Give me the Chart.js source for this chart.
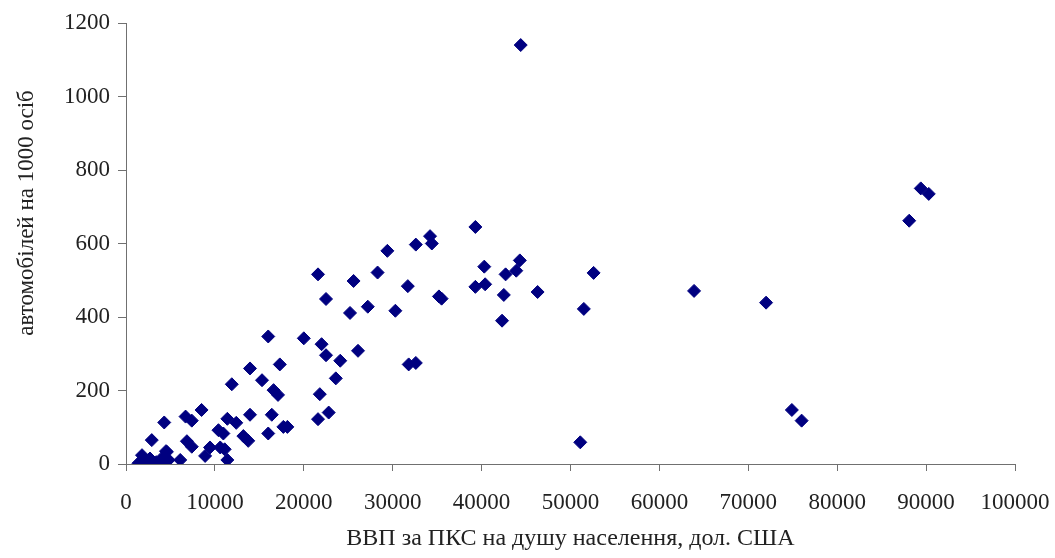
<!DOCTYPE html>
<html>
<head>
<meta charset="utf-8">
<script src="https://cdn.jsdelivr.net/npm/chart.js@4"></script>
<style>
  body { margin: 0; background: #fff; }
  #wrap { width: 1055px; height: 558px; position: relative; }
</style>
</head>
<body>
<div id="wrap"><canvas id="scatterChart"></canvas></div>
<script>
// GDP per capita (PPP, USD) and cars per 1000 people
const gdpValues = [
    44400, 89400, 90300, 88100, 72000, 74900, 76000, 63900, 52600, 51500, 51100, 46300,
    39300, 34200, 32600, 34400, 44300, 40300, 43900, 42700, 39300, 40400, 42500, 42300, 35200, 35500, 31700,
    29400, 21600, 25600, 28300, 22500, 25200, 27200, 30300, 20000, 22000, 22500, 24100, 26100, 23600, 21800, 22800, 21600, 31800, 32600,
    16000, 13950, 17300, 11900, 15300, 16600, 17100, 8500, 11400, 12400, 13950, 16400, 10400, 10950, 13200, 13750, 16000, 17700, 18150,
    4300, 6700, 7400, 2900, 6850, 7400, 4500, 9450, 8900, 10600, 11100, 11400, 6100,
    1400, 1800, 2200, 2700, 2900, 3400, 4000, 4200, 4600, 4800
];
const carValues = [
    1140, 750, 735, 662, 439, 147, 118, 471, 520, 422, 59, 468,
    645, 620, 597, 600, 554, 537, 526, 516, 482, 489, 460, 390, 456, 450, 484,
    580, 516, 498, 521, 449, 411, 428, 417, 342, 326, 296, 281, 308, 233, 190, 140, 122, 271, 275,
    347, 260, 271, 217, 228, 201, 188, 147, 123, 112, 134, 134, 92, 83, 76, 63, 83, 101, 101,
    113, 129, 118, 65, 62, 47, 35, 45, 22, 45, 40, 11, 11,
    2, 24, 8, 15, 2, 5, 2, 20, 33, 11
];
const xTitle = 'ВВП за ПКС на душу населення, дол. США';
const yTitle = 'автомобілей на 1000 осіб';

const points = gdpValues.map((x, i) => ({ x: x, y: carValues[i] }));

const serif = '"Liberation Serif", "Times New Roman", serif';
const axisColor = '#707070';
const textColor = '#222';

// y title sits a bit above the middle of the axis in the original, so draw it by hand
const yTitlePlugin = {
    id: 'yTitle',
    afterDraw(chart) {
        const c = chart.ctx;
        c.save();
        c.translate(27, 213);
        c.rotate(-Math.PI / 2);
        c.font = '23px ' + serif;
        c.fillStyle = textColor;
        c.textAlign = 'center';
        c.textBaseline = 'middle';
        c.fillText(yTitle, 0, 0);
        c.restore();
    }
};

const ctx = document.getElementById('scatterChart').getContext('2d');
new Chart(ctx, {
    type: 'scatter',
    data: {
        datasets: [{
            data: points,
            pointStyle: 'rectRot',
            pointRadius: 6.5,
            pointHoverRadius: 6.5,
            backgroundColor: '#000080',
            borderColor: '#000080',
            borderWidth: 1
        }]
    },
    options: {
        responsive: true,
        maintainAspectRatio: false,
        animation: false,
        layout: { padding: { top: 23, right: 40, left: 0, bottom: 0 } },
        plugins: {
            legend: { display: false },
            tooltip: { enabled: false }
        },
        scales: {
            x: {
                type: 'linear',
                min: 0,
                max: 100000,
                afterFit: function (scale) {
                    scale.height = 94;
                    scale.paddingLeft = 0;
                    scale.paddingRight = 0;
                },
                ticks: {
                    stepSize: 10000,
                    padding: 18,
                    maxRotation: 0,
                    color: textColor,
                    font: { family: serif, size: 23 },
                    callback: value => String(value)
                },
                grid: { drawOnChartArea: false, tickLength: 7, color: axisColor },
                border: { color: axisColor, width: 1 },
                title: {
                    display: true,
                    text: xTitle,
                    color: textColor,
                    font: { family: serif, size: 24 },
                    padding: { top: 0, bottom: 5 }
                }
            },
            y: {
                type: 'linear',
                min: 0,
                max: 1200,
                afterFit: function (scale) { scale.width = 126; },
                ticks: {
                    stepSize: 200,
                    padding: 8,
                    color: textColor,
                    font: { family: serif, size: 23 },
                    callback: value => String(value)
                },
                grid: { drawOnChartArea: false, tickLength: 8, color: axisColor },
                border: { color: axisColor, width: 1 }
            }
        }
    },
    plugins: [yTitlePlugin]
});
</script>
</body>
</html>
